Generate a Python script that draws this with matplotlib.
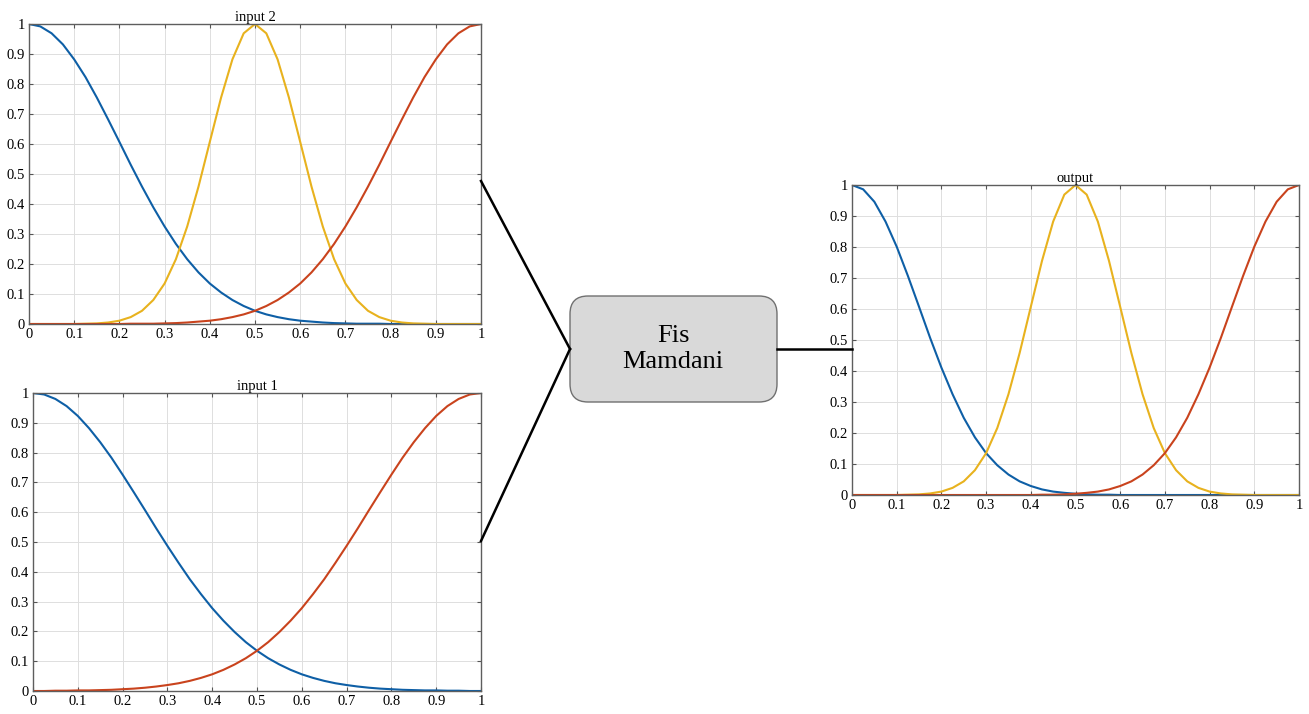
import matplotlib.pyplot as plt
from matplotlib.patches import FancyBboxPatch

plt.rcParams['font.family'] = ['Liberation Serif', 'DejaVu Serif']

# ---- data (membership values) ----
x = [0.0, 0.025, 0.05, 0.075, 0.1, 0.125, 0.15, 0.175, 0.2, 0.225,
     0.25, 0.275, 0.3, 0.325, 0.35, 0.375, 0.4, 0.425, 0.45, 0.475,
     0.5, 0.525, 0.55, 0.575, 0.6, 0.625, 0.65, 0.675, 0.7, 0.725,
     0.75, 0.775, 0.8, 0.825, 0.85, 0.875, 0.9, 0.925, 0.95, 0.975, 1.0]

in2_low = [1.0, 0.992, 0.969, 0.932, 0.882, 0.823, 0.755, 0.682, 0.607, 0.531,
           0.458, 0.389, 0.325, 0.267, 0.216, 0.172, 0.135, 0.105, 0.080, 0.060,
           0.044, 0.032, 0.023, 0.016, 0.011, 0.008, 0.005, 0.003, 0.002, 0.001,
           0.001, 0.001, 0.0, 0.0, 0.0, 0.0, 0.0, 0.0, 0.0, 0.0, 0.0]
in2_mid = [0.0, 0.0, 0.0, 0.0, 0.0, 0.001, 0.002, 0.005, 0.011, 0.023,
           0.044, 0.080, 0.135, 0.216, 0.325, 0.458, 0.607, 0.755, 0.882, 0.969,
           1.0, 0.969, 0.882, 0.755, 0.607, 0.458, 0.325, 0.216, 0.135, 0.080,
           0.044, 0.023, 0.011, 0.005, 0.002, 0.001, 0.0, 0.0, 0.0, 0.0, 0.0]
in2_high = [0.0, 0.0, 0.0, 0.0, 0.0, 0.0, 0.0, 0.0, 0.0, 0.001,
            0.001, 0.001, 0.002, 0.003, 0.005, 0.008, 0.011, 0.016, 0.023, 0.032,
            0.044, 0.060, 0.080, 0.105, 0.135, 0.172, 0.216, 0.267, 0.325, 0.389,
            0.458, 0.531, 0.607, 0.682, 0.755, 0.823, 0.882, 0.932, 0.969, 0.992, 1.0]

in1_low = [1.0, 0.995, 0.980, 0.956, 0.923, 0.882, 0.835, 0.783, 0.726, 0.667,
           0.607, 0.546, 0.487, 0.430, 0.375, 0.325, 0.278, 0.236, 0.198, 0.164,
           0.135, 0.110, 0.089, 0.071, 0.056, 0.044, 0.034, 0.026, 0.020, 0.015,
           0.011, 0.008, 0.006, 0.004, 0.003, 0.002, 0.002, 0.001, 0.001, 0.0, 0.0]
in1_high = [0.0, 0.0, 0.001, 0.001, 0.002, 0.002, 0.003, 0.004, 0.006, 0.008,
            0.011, 0.015, 0.020, 0.026, 0.034, 0.044, 0.056, 0.071, 0.089, 0.110,
            0.135, 0.164, 0.198, 0.236, 0.278, 0.325, 0.375, 0.430, 0.487, 0.546,
            0.607, 0.667, 0.726, 0.783, 0.835, 0.882, 0.923, 0.956, 0.980, 0.995, 1.0]

out_low = [1.0, 0.986, 0.946, 0.882, 0.801, 0.707, 0.607, 0.506, 0.411, 0.325,
           0.249, 0.186, 0.135, 0.096, 0.066, 0.044, 0.029, 0.018, 0.011, 0.007,
           0.004, 0.002, 0.001, 0.001, 0.0, 0.0, 0.0, 0.0, 0.0, 0.0,
           0.0, 0.0, 0.0, 0.0, 0.0, 0.0, 0.0, 0.0, 0.0, 0.0, 0.0]
out_mid = [0.0, 0.0, 0.0, 0.0, 0.0, 0.001, 0.002, 0.005, 0.011, 0.023,
           0.044, 0.080, 0.135, 0.216, 0.325, 0.458, 0.607, 0.755, 0.882, 0.969,
           1.0, 0.969, 0.882, 0.755, 0.607, 0.458, 0.325, 0.216, 0.135, 0.080,
           0.044, 0.023, 0.011, 0.005, 0.002, 0.001, 0.0, 0.0, 0.0, 0.0, 0.0]
out_high = [0.0, 0.0, 0.0, 0.0, 0.0, 0.0, 0.0, 0.0, 0.0, 0.0,
            0.0, 0.0, 0.0, 0.0, 0.0, 0.0, 0.0, 0.001, 0.001, 0.002,
            0.004, 0.007, 0.011, 0.018, 0.029, 0.044, 0.066, 0.096, 0.135, 0.186,
            0.249, 0.325, 0.411, 0.506, 0.607, 0.707, 0.801, 0.882, 0.946, 0.986, 1.0]

ticks = [0, 0.1, 0.2, 0.3, 0.4, 0.5, 0.6, 0.7, 0.8, 0.9, 1]
tick_labels = ['0', '0.1', '0.2', '0.3', '0.4', '0.5', '0.6', '0.7', '0.8', '0.9', '1']

BLUE = '#0e5fa6'
RED = '#c9431d'
YELLOW = '#e8b21e'

W, H = 1309, 714
fig = plt.figure(figsize=(W / 100, H / 100), dpi=100)


def mf_axes(rect, title, curves):
    ax = fig.add_axes(rect)
    for ys, c in curves:
        ax.plot(x, ys, color=c, lw=1.5, solid_joinstyle='round')
    ax.set_xlim(0, 1)
    ax.set_ylim(0, 1)
    ax.set_xticks(ticks)
    ax.set_xticklabels(tick_labels)
    ax.set_yticks(ticks)
    ax.set_yticklabels(tick_labels)
    ax.grid(True, color='#dedede', lw=0.7)
    ax.tick_params(direction='in', length=3, width=0.8, color='#555555',
                   top=True, right=True, labelsize=10.5, pad=3)
    for s in ax.spines.values():
        s.set_color('#5e5e5e')
        s.set_linewidth(1.0)
    ax.set_title(title, fontsize=10.5, pad=2)
    return ax


def rect_px(left, top, right, bottom):
    return [left / W, 1 - bottom / H, (right - left) / W, (bottom - top) / H]


mf_axes(rect_px(29, 24, 481, 324), 'input 2',
        [(in2_low, BLUE), (in2_mid, YELLOW), (in2_high, RED)])
mf_axes(rect_px(33, 393, 481, 691), 'input 1',
        [(in1_low, BLUE), (in1_high, RED)])
mf_axes(rect_px(852, 185, 1299, 495), 'output',
        [(out_low, BLUE), (out_mid, YELLOW), (out_high, RED)])

# ---- overlay: connectors and the FIS box ----
ov = fig.add_axes([0, 0, 1, 1])
ov.set_xlim(0, W)
ov.set_ylim(H, 0)
ov.axis('off')
ov.patch.set_alpha(0)

ov.plot([481, 570], [181, 349], color='black', lw=1.8)
ov.plot([481, 570], [541, 349], color='black', lw=1.8)
ov.plot([777, 852], [349, 349], color='black', lw=1.8)

box = FancyBboxPatch((570, 296), 207, 106,
                     boxstyle='round,pad=0,rounding_size=18',
                     facecolor='#d9d9d9', edgecolor='#707070', lw=1.0)
ov.add_patch(box)
ov.text(673, 349, 'Fis\nMamdani', ha='center', va='center',
        fontsize=19, linespacing=1.2)

fig.savefig('out.png', dpi=100)
